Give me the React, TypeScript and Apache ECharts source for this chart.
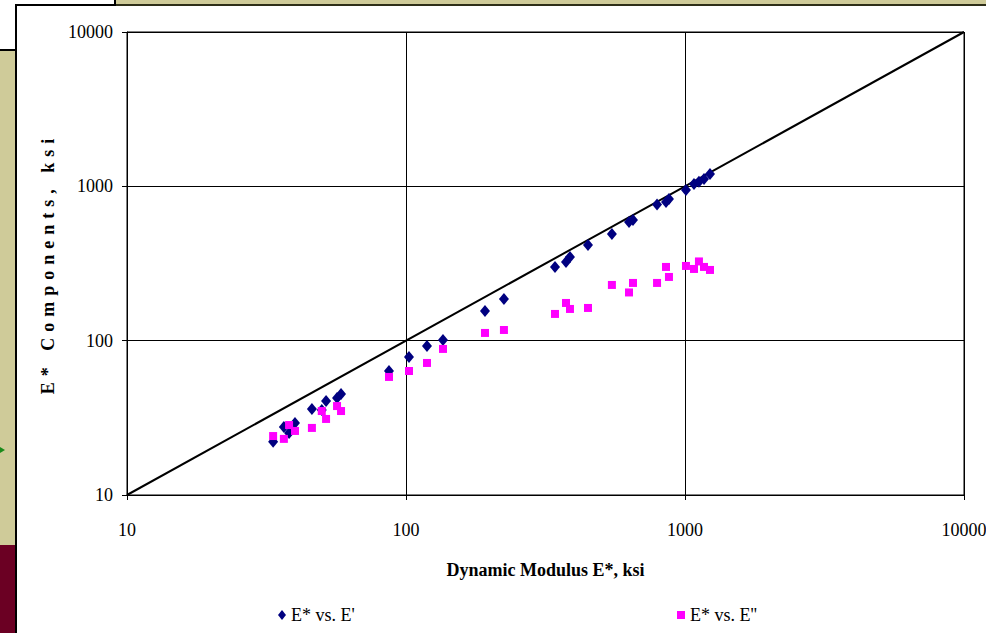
import React, { useEffect, useRef } from "react";
import * as echarts from "echarts";

// Dynamic modulus E* (ksi) for each test point
const eStar = [33.4, 36.5, 38.1, 40.0, 46.0, 49.9, 51.7, 56.6, 58.5, 86.9, 102.5, 118.9, 135.7, 191.9, 224.4, 342, 374.5, 387, 449, 547, 630, 651, 794, 855, 876, 1008, 1077, 1122, 1170, 1229];
// Storage component E' (ksi)
const eStorage = [22.1, 27.6, 25.2, 29.3, 36.1, 35.6, 40.6, 42.5, 45.1, 63.6, 78.4, 92.4, 101, 155.8, 186.3, 300.4, 323.6, 348.7, 417.2, 491.5, 588, 605.7, 763, 792, 828.6, 947.7, 1036.6, 1070, 1116.7, 1203];
// Loss component E'' (ksi)
const eLoss = [24.1, 23.1, 28.4, 26.0, 27.2, 35.0, 31.1, 37.7, 35.0, 58.2, 63.6, 71.7, 88.4, 112.2, 117.3, 149, 175.5, 160.5, 162.9, 229.6, 205.3, 236.6, 236.6, 300.4, 258.7, 304.9, 291.5, 326.1, 300.4, 287.2];
// Line of equality end points
const equalityLine = [10, 10000];

const seriesNames = ["E* vs. E'", "E* vs. E''"];
const xTitle = "Dynamic Modulus E*, ksi";
const yTitle = "E* Components, ksi";

const FONT = '"Liberation Serif", "Times New Roman", serif';

export default function App() {
  const ref = useRef<HTMLDivElement>(null);

  useEffect(() => {
    if (!ref.current) return;
    const chart = echarts.init(ref.current, undefined, { renderer: "svg" });

    const axisCommon = {
      type: "log" as const,
      logBase: 10,
      min: 10,
      max: 10000,
      axisLine: { show: true, lineStyle: { color: "#000", width: 1 } },
      axisTick: { show: true, inside: false, length: 5, lineStyle: { color: "#000" } },
      minorTick: { show: false },
      splitLine: { show: true, lineStyle: { color: "#000", width: 1 } },
      axisLabel: {
        color: "#000",
        fontFamily: FONT,
        fontSize: 18,
        formatter: (v: number) => String(Math.round(v)),
      },
      nameLocation: "middle" as const,
      nameTextStyle: { color: "#000", fontFamily: FONT, fontSize: 18, fontWeight: "bold" as const },
    };

    chart.setOption({
      animation: false,
      grid: {
        left: 127,
        right: 22,
        top: 32,
        bottom: 138,
        show: true,
        borderColor: "#000",
        borderWidth: 1,
        backgroundColor: "transparent",
        containLabel: false,
        outerBoundsMode: "none",
      },
      xAxis: {
        ...axisCommon,
        name: xTitle,
        nameGap: 66,
        axisLabel: { ...axisCommon.axisLabel, margin: 26 },
      },
      yAxis: {
        ...axisCommon,
        name: yTitle,
        nameGap: 68,
        axisLabel: { ...axisCommon.axisLabel, margin: 14 },
      },
      legend: [
        {
          data: [{ name: seriesNames[0], icon: "diamond" }],
          left: 273,
          top: 601,
          itemWidth: 8,
          itemHeight: 10,
          textStyle: { color: "#000", fontFamily: FONT, fontSize: 18 },
        },
        {
          data: [{ name: seriesNames[1], icon: "rect" }],
          left: 672,
          top: 601,
          itemWidth: 8,
          itemHeight: 8,
          textStyle: { color: "#000", fontFamily: FONT, fontSize: 18 },
        },
      ],
      series: [
        {
          name: "Equality",
          type: "line",
          data: equalityLine.map((v) => [v, v]),
          showSymbol: false,
          symbol: "none",
          lineStyle: { color: "#000", width: 2 },
          z: 1,
          silent: true,
        },
        {
          name: seriesNames[0],
          type: "scatter",
          data: eStar.map((x, i) => [x, eStorage[i]]),
          symbol: "diamond",
          symbolSize: [10, 12],
          itemStyle: { color: "#000080", opacity: 1 },
          z: 2,
        },
        {
          name: seriesNames[1],
          type: "scatter",
          data: eStar.map((x, i) => [x, eLoss[i]]),
          symbol: "rect",
          symbolSize: 8,
          itemStyle: { color: "#ff00ff", opacity: 1 },
          z: 3,
        },
      ],
    });

    const spaceTitle = () => {
      const texts = ref.current?.querySelectorAll("text");
      texts?.forEach((t) => {
        if (t.textContent === yTitle) t.setAttribute("letter-spacing", "6");
      });
    };
    spaceTitle();
    chart.on("finished", spaceTitle);
    const tm = setTimeout(spaceTitle, 50);

    return () => {
      clearTimeout(tm);
      chart.dispose();
    };
  }, []);

  const beige = "#cfcb99";
  return (
    <div style={{ position: "fixed", left: 0, top: 0, width: 986, height: 633, background: "#fff", overflow: "hidden" }}>
      {/* slide decorations */}
      <div style={{ position: "absolute", left: 115, top: 0, width: 871, height: 4, background: beige }} />
      <div style={{ position: "absolute", left: 115, top: 4, width: 871, height: 2, background: "#2e2e18" }} />
      <div style={{ position: "absolute", left: 114, top: 0, width: 2, height: 6, background: "#000" }} />
      <div style={{ position: "absolute", left: 16, top: 4, width: 100, height: 2, background: "#000" }} />
      <div style={{ position: "absolute", left: 15, top: 4, width: 2, height: 629, background: "#000" }} />
      <div style={{ position: "absolute", left: 0, top: 49, width: 16, height: 2, background: "#000" }} />
      <div style={{ position: "absolute", left: 0, top: 51, width: 15, height: 494, background: beige }} />
      <div style={{ position: "absolute", left: 0, top: 545, width: 15, height: 88, background: "#6b0023" }} />
      <div
        style={{
          position: "absolute",
          left: 0,
          top: 447,
          width: 0,
          height: 0,
          borderLeft: "5px solid #1a8a1a",
          borderTop: "3px solid transparent",
          borderBottom: "3px solid transparent",
        }}
      />
      <div ref={ref} style={{ position: "absolute", left: 0, top: 0, width: 986, height: 633 }} />
    </div>
  );
}
